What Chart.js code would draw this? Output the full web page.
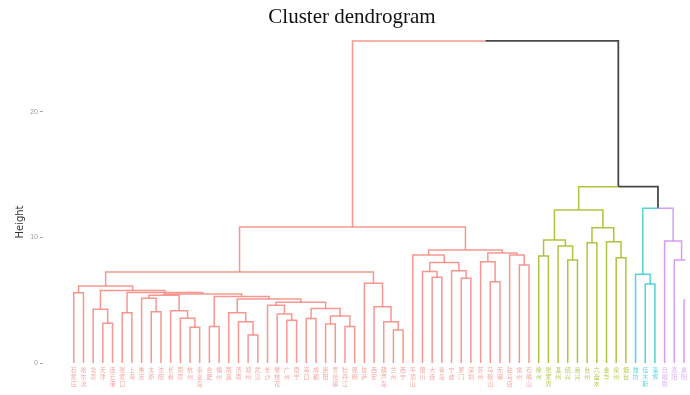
<!DOCTYPE html>
<html><head><meta charset="utf-8">
<script src="https://cdn.jsdelivr.net/npm/chart.js@4.4.0/dist/chart.umd.min.js"></script>
<style>html,body{margin:0;padding:0;background:#fff}</style>
</head><body>
<canvas id="c" width="690" height="395"></canvas>
<script>
// Leaf labels (left to right)
const leafNames = ['石家庄','哈尔滨','北京','天津','连云港','张家口','上海','重庆','太原','沈阳',
  '长春','南京','杭州','秦皇岛','合肥','福州','南昌','济南','郑州','武汉',
  '长沙','攀枝花','广州','南宁','海口','成都','贵阳','景德镇','牡丹江','昆明',
  '拉萨','西安','葫芦岛','兰州','西宁','平顶山','银川','大连','青岛','宁波',
  '厦门','深圳','苏州','马鞍山','无锡','驻马店','常州','石嘴山','徐州','张家界',
  '温州','绍兴','嘉兴','台州','六盘水','金华','泉州','烟台','潍坊','佳木斯',
  '淄博','日喀则','洛阳','襄阳','宜昌'];
// number of leaves in each cluster, in leaf order
const clusterSizes = [48, 10, 3, 4];
const clusterColors = ['rgba(242,112,102,0.72)', 'rgba(160,186,30,0.85)', 'rgba(40,200,208,0.8)', 'rgba(206,140,245,0.85)'];
const labelColors = ['rgba(242,130,120,0.7)', 'rgba(165,190,40,0.8)', 'rgba(50,205,212,0.75)', 'rgba(205,145,245,0.75)'];
const mixedColor = 'rgba(40,40,40,0.85)';
// hclust-style merges: negative = leaf number (1-based), positive = earlier merge step (1-based)
const mergeLeft  = [-1,-4,-3,-6,-9,-8,-13,-12,-11,6, -15,-19,-18,-17,-23,-22,-21,-25,-27,-29,
  19,18,17,14,11,10,4,3,1,-34, -33,-32,-31,29,-38,-37,-41,-40,36,-36,
  -44,-43,-47,-46,42,40,34,-49,-52,-51, 48,-54,-57,-56,52,51,-60,-59,-64,-63,
  -62,58,56,47];
const mergeRight = [-2,-5,2,-7,-10,5,-14,7,8,9, -16,-20,12,13,-24,15,16,-26,-28,-30,
  20,21,22,23,24,25,26,27,28,-35, 30,31,32,33,-39,35,-42,37,38,39,
  -45,41,-48,43,44,45,46,-50,-53,49, 50,-55,-58,53,54,55,-61,57,-65,59,
  60,61,62,63];
const mergeHeight = [5.6,3.16,4.28,4.0,4.09,5.16,2.84,3.56,4.17,5.4, 2.9,2.23,3.29,4.0,3.4,3.9,4.6,3.55,3.1,2.9,
  3.75,4.35,4.85,5.1,5.3,5.5,5.62,5.78,6.14,2.63, 3.29,4.49,6.35,7.25,6.83,7.3,6.75,7.35,8.0,8.6,
  6.48,8.07,7.8,8.6,8.76,9.0,10.84,8.53,8.2,9.32, 9.8,9.59,8.39,9.67,10.78,12.19,6.3,7.07,5.0,8.2,
  9.72,12.33,14.05,25.66];
const yTickValues = [0, 10, 20];

function clusterOf(i){ let acc=0; for(let g=0; g<clusterSizes.length; g++){ acc+=clusterSizes[g]; if(i<acc) return g; } return clusterSizes.length-1; }
const nodeX=[], nodeH=[], nodeG=[];
function info(id){
  if(id<0){ const i=-id-1; return {x:i, h:0, g:clusterOf(i)}; }
  const k=id-1; return {x:nodeX[k], h:nodeH[k], g:nodeG[k]};
}
const colorFor = g => g<0 ? mixedColor : clusterColors[g];
const datasets=[];
for(let k=0;k<mergeHeight.length;k++){
  const a=info(mergeLeft[k]), b=info(mergeRight[k]);
  const x=(a.x+b.x)/2, h=mergeHeight[k];
  const g = a.g===b.g ? a.g : -1;
  nodeX.push(x); nodeH.push(h); nodeG.push(g);
  [a,b].forEach(c=>{
    datasets.push({
      data:[{x:c.x,y:c.h},{x:c.x,y:h},{x:x,y:h}],
      borderColor: colorFor(c.g), borderWidth: c.g<0 ? 1.8 : 1.5,
      pointRadius:0, fill:false, tension:0, borderJoinStyle:'miter'
    });
  });
}

const heightLabel = {
  id:'heightLabel',
  afterDraw(chart){
    const ctx=chart.ctx; ctx.save();
    ctx.translate(20, 222); ctx.rotate(-Math.PI/2);
    ctx.font='10px "DejaVu Sans"'; ctx.fillStyle='#333';
    ctx.textAlign='center'; ctx.textBaseline='middle';
    ctx.fillText('Height',0,0); ctx.restore();
  }
};

new Chart(document.getElementById('c'), {
  type:'line',
  data:{datasets},
  plugins:[heightLabel],
  options:{
    responsive:false, animation:false,
    layout:{padding:{left:14,right:0,top:0,bottom:0}},
    plugins:{
      legend:{display:false}, tooltip:{enabled:false},
      title:{display:true, text:'Cluster dendrogram', color:'#111',
        font:{family:'"Liberation Serif"', size:21, weight:'normal', lineHeight:1.2},
        padding:{top:5,bottom:0.2}}
    },
    scales:{
      x:{type:'linear', min:-3.178, max:63.15,
        grid:{display:false, drawTicks:false}, border:{display:false},
        ticks:{stepSize:1, autoSkip:false, maxRotation:0, minRotation:0, includeBounds:false, maxTicksLimit:300,
          padding:3, font:{family:'"Noto Sans CJK SC"', size:6, lineHeight:1.2},
          color: ctx => { const v=Math.round(ctx.tick.value); return (v>=0 && v<leafNames.length) ? labelColors[clusterOf(v)] : '#fff'; },
          callback: v => { const r=Math.round(v); if(Math.abs(v-r)<1e-6 && r>=0 && r<leafNames.length) return leafNames[r].split(''); return ''; }
        },
        afterFit: s => { s.height = 32; }
      },
      y:{min:0, max:26.5,
        grid:{drawOnChartArea:false, drawTicks:true, tickLength:3, color:'#a8a8a8'},
        border:{display:false},
        ticks:{stepSize:10, includeBounds:false, padding:2, color:'#9b9b9b',
          font:{family:'"Liberation Sans"', size:7},
          callback: v => yTickValues.includes(v) ? String(v) : ''},
        afterFit: s => { s.width = 29; }
      }
    }
  }
});
</script>
</body></html>
